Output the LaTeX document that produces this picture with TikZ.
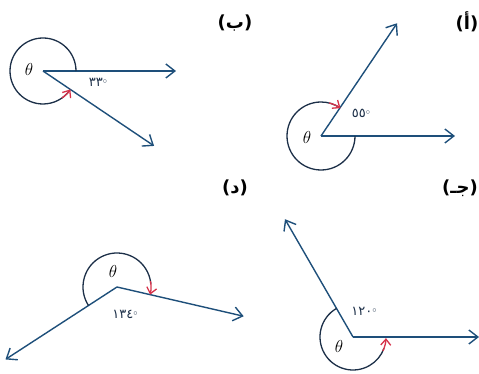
\documentclass[tikz,border=0pt]{standalone}
\usepackage{fontspec}
\usetikzlibrary{calc}
\usetikzlibrary{arrows.meta}
\newfontfamily\arabicfont[Script=Arabic]{DejaVu Sans}
\TeXXeTstate=1
\definecolor{raycol}{HTML}{1E4F7A}
\definecolor{arccol}{HTML}{1C2F48}
\definecolor{tipcol}{HTML}{D6324A}
\newcommand{\dg}[1]{{\arabicfont #1}\raisebox{0.55ex}{\fontsize{8}{9}\selectfont$\circ$}}

\begin{document}
\begin{tikzpicture}[x=1pt, y=1pt,
    ray/.style={raycol, line width=1.4pt,
        -{Straight Barb[length=9pt, width=14pt, line width=1.4pt]}},
    arcline/.style={arccol, line width=1.3pt},
    redtip/.style={tipcol, line width=1.3pt,
        -{Straight Barb[length=6pt, width=10pt, line width=1.3pt]}},
    thetalabel/.style={font=\fontsize{17}{20}\selectfont},
    deglabel/.style={arccol, inner sep=0pt, font=\fontsize{13}{15}\selectfont},
    partlabel/.style={black, font=\arabicfont\bfseries\fontsize{18}{21}\selectfont}
]
\useasboundingbox (0,0) rectangle (479,374);

% (a)
\coordinate (Oa) at (321,238);
\coordinate (Ra) at (455,238);
\coordinate (Ua) at ($(Oa)+(56:136)$);
\draw[ray] (Oa) -- (Ra);
\draw[ray] (Oa) -- (Ua);
\draw[arcline] (Oa) ++(0:34) arc[start angle=0, end angle=-304, radius=34];
\draw[redtip] (Oa) ++(-284:34) arc[start angle=-284, end angle=-305, radius=34];
\node[thetalabel] (ta) at (307,236) {$\theta$};
\node[deglabel] (da) at (361,261) {\dg{٥٥}};
\node[partlabel] (la) at (467,352) {\beginR(أ)\endR};

% (b)
\coordinate (Ob) at (43,303);
\coordinate (Rb) at (176,303);
\coordinate (Db) at ($(Ob)+(-34:134)$);
\draw[ray] (Ob) -- (Rb);
\draw[ray] (Ob) -- (Db);
\draw[arcline] (Ob) ++(0:33) arc[start angle=0, end angle=325, radius=33];
\draw[redtip] (Ob) ++(305:33) arc[start angle=305, end angle=326, radius=33];
\node[thetalabel] (tb) at (29,304) {$\theta$};
\node[deglabel] (db) at (98,292) {\dg{٣٣}};
\node[partlabel] (lb) at (235,351) {\beginR(ب)\endR};

% (c)
\coordinate (Oc) at (353,37);
\coordinate (Rc) at (479,37);
\coordinate (Uc) at ($(Oc)+(120:136)$);
\draw[ray] (Oc) -- (Rc);
\draw[ray] (Oc) -- (Uc);
\draw[arcline] (Oc) ++(120:33) arc[start angle=120, end angle=340, radius=33];
\draw[redtip] (Oc) ++(335:33) arc[start angle=335, end angle=358, radius=33];
\node[thetalabel] (tc) at (339,27) {$\theta$};
\node[deglabel] (dc) at (364,63) {\dg{١٢٠}};
\node[partlabel] (lc) at (460,186) {\beginR(جـ)\endR};

% (d)
\coordinate (Od) at (117,87);
\coordinate (Rd) at ($(Od)+(-13:130)$);
\coordinate (Ld) at ($(Od)+(213:133)$);
\draw[ray] (Od) -- (Rd);
\draw[ray] (Od) -- (Ld);
\draw[arcline] (Od) ++(213:34) arc[start angle=213, end angle=5, radius=34];
\draw[redtip] (Od) ++(10:34) arc[start angle=10, end angle=-13, radius=34];
\node[thetalabel] (td) at (113,102) {$\theta$};
\node[deglabel] (dd) at (125,60) {\dg{١٣٤}};
\node[partlabel] (ld) at (235,186) {\beginR(د)\endR};
\end{tikzpicture}
\end{document}
